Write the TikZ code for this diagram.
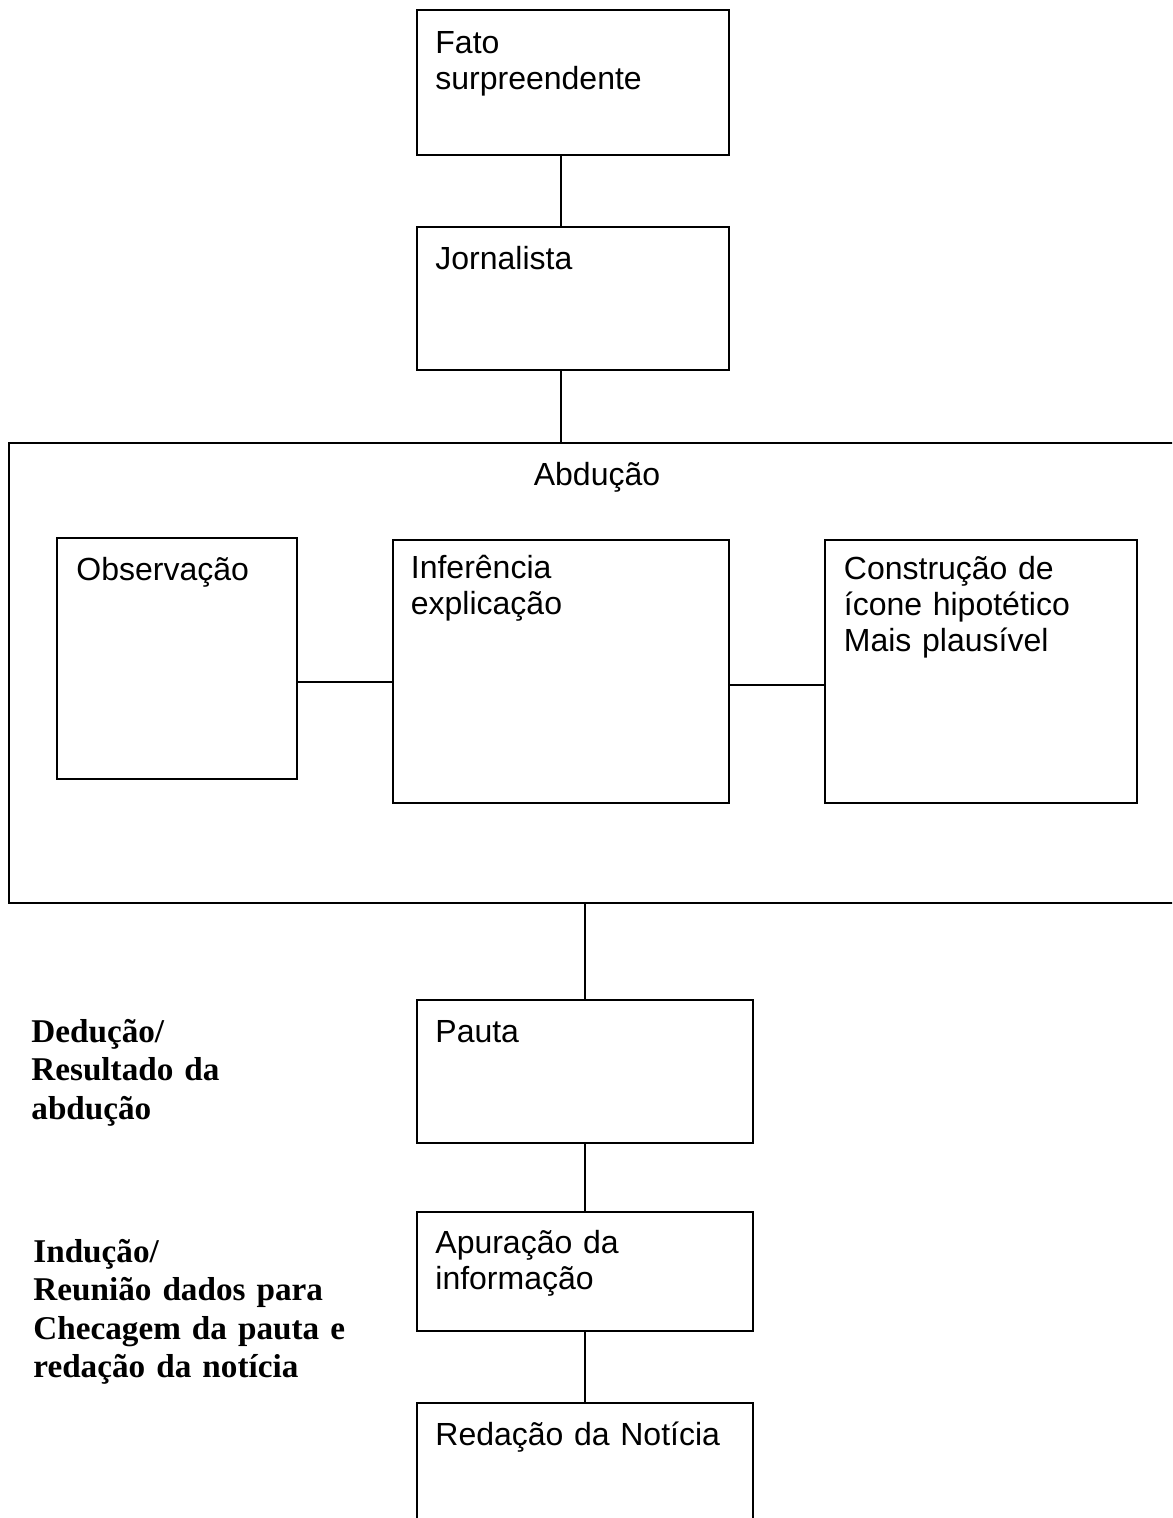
\documentclass[tikz,border=0pt]{standalone}
\usepackage{fontspec}
\setmainfont{Liberation Sans}
\newfontfamily\serifa{Liberation Serif}
\tikzset{
  caixa/.style={draw, rectangle, line width=1pt, inner sep=0pt},
  texto/.style={anchor=base west, inner sep=0pt, align=left, text width=150pt,
    font=\fontsize{16}{18}\selectfont},
  rotulo/.style={anchor=base west, inner sep=0pt, align=left, text width=170pt,
    font=\serifa\bfseries\fontsize{16.6}{19.3}\selectfont}
}
\begin{document}
\begin{tikzpicture}[x=0.5pt, y=-0.5pt]
  \clip (0,0) rectangle (1172,1518);
  \node[caixa, minimum width=156pt, minimum height=72.5pt] (fato) at (573,82.5) {};
  \node[caixa, minimum width=156pt, minimum height=71.5pt] (jorn) at (573,298.5) {};
  \node[caixa, minimum width=590.5pt, minimum height=230pt] (abd) at (599.5,673) {};
  \node[caixa, minimum width=120pt, minimum height=120.5pt] (obs) at (177,658.5) {};
  \node[caixa, minimum width=168pt, minimum height=131.5pt] (inf) at (561,671.5) {};
  \node[caixa, minimum width=156pt, minimum height=131.5pt] (constr) at (981,671.5) {};
  \node[caixa, minimum width=168pt, minimum height=71.5pt] (pauta) at (585,1071.5) {};
  \node[caixa, minimum width=168pt, minimum height=59.5pt] (apur) at (585,1271.5) {};
  \node[caixa, minimum width=168pt, minimum height=78.5pt] (red) at (585,1481.5) {};

  \node[texto] (tfato) at (435,54) {Fato\\surpreendente};
  \node[texto] (tjorn) at (435,270) {Jornalista};
  \node[texto, anchor=base, text width=] (tabd) at (597,485) {Abdução};
  \node[texto] (tobs) at (76,580) {Observação};
  \node[texto] (tinf) at (410.5,578) {Inferência\\explicação};
  \node[texto] (tconstr) at (843.5,579) {Construção de\\ícone hipotético\\Mais plausível};
  \node[texto] (tpauta) at (435,1042) {Pauta};
  \node[texto] (tapur) at (435,1253) {Apuração da\\informação};
  \node[texto] (tred) at (435,1445) {Redação da Notícia};

  \node[rotulo] (ded) at (31,1042) {Dedução/\\Resultado da\\abdução};
  \node[rotulo] (ind) at (33,1262) {Indução/\\Reunião dados para\\Checagem da pauta e\\redação da notícia};

  \begin{scope}[line width=1pt]
    \draw (fato.south -| inf.north) -- (jorn.north -| inf.north);
    \draw (jorn.south -| inf.north) -- (abd.north -| inf.north);
    \draw ([yshift=-11.75pt]obs.east) -- ([yshift=-11.75pt]obs.east -| inf.west);
    \draw ([yshift=-6.75pt]inf.east) -- ([yshift=-6.75pt]constr.west);
    \draw (abd.south -| pauta.north) -- (pauta.north);
    \draw (pauta.south) -- (apur.north);
    \draw (apur.south) -- (red.north);
  \end{scope}
\end{tikzpicture}
\end{document}
